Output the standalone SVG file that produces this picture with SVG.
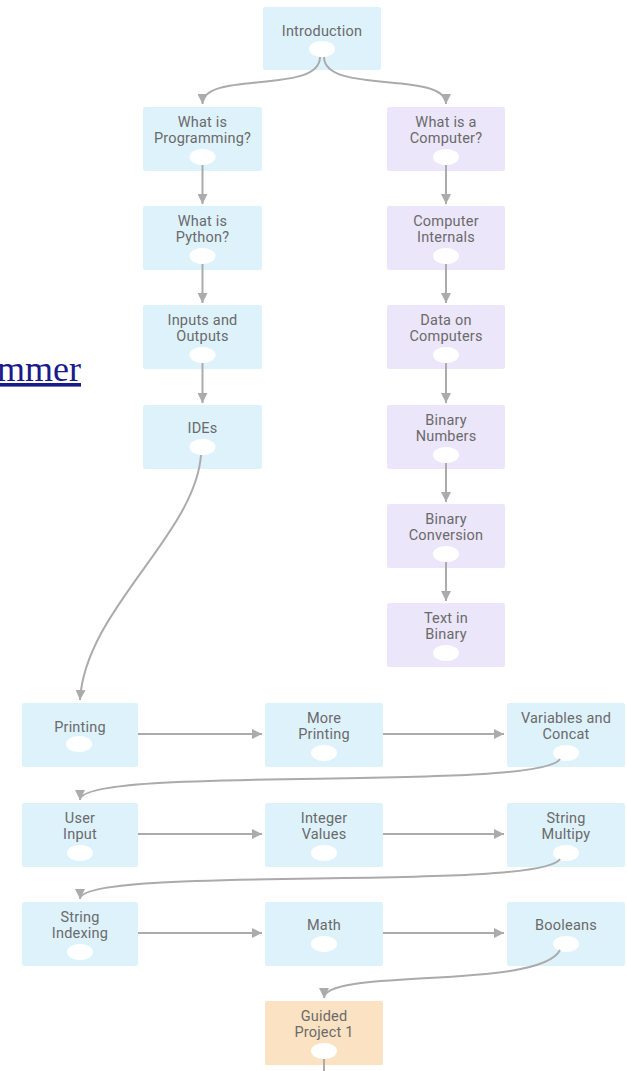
<svg xmlns="http://www.w3.org/2000/svg" width="627" height="1071" viewBox="0 0 627 1071">
<style>
.b{fill:#def2fc}
.p{fill:#ece6fb}
.o{fill:#fbe2c2}
.t{font-family:Roboto,"Liberation Sans",sans-serif;font-size:14.5px;letter-spacing:0.2px;fill:#6a6a6a;text-anchor:middle}
.c{fill:#fff}
.e{fill:none;stroke:#ababab;stroke-width:2;marker-end:url(#a)}
.n{fill:none;stroke:#ababab;stroke-width:2}
</style>
<defs>
<marker id="a" markerUnits="userSpaceOnUse" markerWidth="12" markerHeight="10" refX="10" refY="5" orient="auto" viewBox="0 0 12 10">
<path d="M0,0 L10,5 L0,10 z" fill="#ababab"/>
</marker>
</defs>
<rect width="627" height="1071" fill="#fff"/>
<text x="-3" y="381" font-family="'Liberation Serif',serif" font-size="36" fill="#1a1a8a" text-decoration="underline">mmer</text>

<g id="n-intro"><rect class="b" x="263" y="7" width="118" height="63" rx="2"/><text class="t" x="322" y="36">Introduction</text><ellipse class="c" cx="322" cy="49" rx="13" ry="8"/></g>

<g id="n-prog"><rect class="b" x="143" y="107" width="119" height="64" rx="2"/><text class="t" x="202.5" y="127">What is</text><text class="t" x="202.5" y="143">Programming?</text><ellipse class="c" cx="202.5" cy="157" rx="13" ry="8"/></g>
<g id="n-python"><rect class="b" x="143" y="206" width="119" height="64" rx="2"/><text class="t" x="202.5" y="226">What is</text><text class="t" x="202.5" y="242">Python?</text><ellipse class="c" cx="202.5" cy="256" rx="13" ry="8"/></g>
<g id="n-io"><rect class="b" x="143" y="305" width="119" height="64" rx="2"/><text class="t" x="202.5" y="325">Inputs and</text><text class="t" x="202.5" y="341">Outputs</text><ellipse class="c" cx="202.5" cy="355" rx="13" ry="8"/></g>
<g id="n-ides"><rect class="b" x="143" y="405" width="119" height="64" rx="2"/><text class="t" x="202.5" y="433">IDEs</text><ellipse class="c" cx="202.5" cy="447" rx="13" ry="8"/></g>

<g id="n-comp"><rect class="p" x="387" y="107" width="118" height="64" rx="2"/><text class="t" x="446" y="127">What is a</text><text class="t" x="446" y="143">Computer?</text><ellipse class="c" cx="446" cy="157" rx="13" ry="8"/></g>
<g id="n-internals"><rect class="p" x="387" y="206" width="118" height="64" rx="2"/><text class="t" x="446" y="226">Computer</text><text class="t" x="446" y="242">Internals</text><ellipse class="c" cx="446" cy="256" rx="13" ry="8"/></g>
<g id="n-data"><rect class="p" x="387" y="305" width="118" height="64" rx="2"/><text class="t" x="446" y="325">Data on</text><text class="t" x="446" y="341">Computers</text><ellipse class="c" cx="446" cy="355" rx="13" ry="8"/></g>
<g id="n-binnum"><rect class="p" x="387" y="405" width="118" height="64" rx="2"/><text class="t" x="446" y="425">Binary</text><text class="t" x="446" y="441">Numbers</text><ellipse class="c" cx="446" cy="455" rx="13" ry="8"/></g>
<g id="n-binconv"><rect class="p" x="387" y="504" width="118" height="64" rx="2"/><text class="t" x="446" y="524">Binary</text><text class="t" x="446" y="540">Conversion</text><ellipse class="c" cx="446" cy="554" rx="13" ry="8"/></g>
<g id="n-textbin"><rect class="p" x="387" y="603" width="118" height="64" rx="2"/><text class="t" x="446" y="623">Text in</text><text class="t" x="446" y="639">Binary</text><ellipse class="c" cx="446" cy="653" rx="13" ry="8"/></g>

<g id="n-printing"><rect class="b" x="22" y="703" width="116" height="64" rx="2"/><text class="t" x="80" y="732">Printing</text><ellipse class="c" cx="79" cy="744" rx="13" ry="8"/></g>
<g id="n-moreprinting"><rect class="b" x="265" y="703" width="118" height="64" rx="2"/><text class="t" x="324" y="723">More</text><text class="t" x="324" y="739">Printing</text><ellipse class="c" cx="324" cy="753" rx="13" ry="8"/></g>
<g id="n-vars"><rect class="b" x="507" y="703" width="118" height="64" rx="2"/><text class="t" x="566" y="723">Variables and</text><text class="t" x="566" y="739">Concat</text><ellipse class="c" cx="566" cy="753" rx="13" ry="8"/></g>

<g id="n-userinput"><rect class="b" x="22" y="803" width="116" height="64" rx="2"/><text class="t" x="80" y="823">User</text><text class="t" x="80" y="839">Input</text><ellipse class="c" cx="80" cy="853" rx="13" ry="8"/></g>
<g id="n-integer"><rect class="b" x="265" y="803" width="118" height="64" rx="2"/><text class="t" x="324" y="823">Integer</text><text class="t" x="324" y="839">Values</text><ellipse class="c" cx="324" cy="853" rx="13" ry="8"/></g>
<g id="n-strmul"><rect class="b" x="507" y="803" width="118" height="64" rx="2"/><text class="t" x="566" y="823">String</text><text class="t" x="566" y="839">Multipy</text><ellipse class="c" cx="566" cy="853" rx="13" ry="8"/></g>

<g id="n-stridx"><rect class="b" x="22" y="902" width="116" height="64" rx="2"/><text class="t" x="80" y="922">String</text><text class="t" x="80" y="938">Indexing</text><ellipse class="c" cx="80" cy="952" rx="13" ry="8"/></g>
<g id="n-math"><rect class="b" x="265" y="902" width="118" height="64" rx="2"/><text class="t" x="324" y="930">Math</text><ellipse class="c" cx="324" cy="944" rx="13" ry="8"/></g>
<g id="n-bool"><rect class="b" x="507" y="902" width="118" height="64" rx="2"/><text class="t" x="566" y="930">Booleans</text><ellipse class="c" cx="566" cy="944" rx="13" ry="8"/></g>

<g id="n-guided"><rect class="o" x="265" y="1001" width="118" height="64" rx="2"/><text class="t" x="324" y="1021">Guided</text><text class="t" x="324" y="1037">Project 1</text><ellipse class="c" cx="324" cy="1051" rx="13" ry="8"/></g>

<g id="connectors">
<path class="e" d="M320,57 C320,95 202.5,70 202.5,104"/>
<path class="e" d="M324,57 C324,95 446,70 446,104"/>
<path class="e" d="M202.5,165 L202.5,204"/>
<path class="e" d="M202.5,264 L202.5,303"/>
<path class="e" d="M202.5,363 L202.5,403"/>
<path class="e" d="M446,165 L446,204"/>
<path class="e" d="M446,264 L446,303"/>
<path class="e" d="M446,363 L446,403"/>
<path class="e" d="M446,463 L446,502"/>
<path class="e" d="M446,562 L446,601"/>
<path class="e" d="M201,455 C195,535 85,610 80,700"/>
<path class="e" d="M138,734 L262,734"/>
<path class="e" d="M383,734 L504,734"/>
<path class="e" d="M560,759 C540,792 80,765 80,800"/>
<path class="e" d="M138,834 L262,834"/>
<path class="e" d="M383,834 L504,834"/>
<path class="e" d="M560,859 C540,892 80,865 80,899"/>
<path class="e" d="M138,933 L262,933"/>
<path class="e" d="M383,933 L504,933"/>
<path class="e" d="M560,950 C540,990 324,968 324,998"/>
<path class="n" d="M324,1059 L324,1071"/>
</g>
</svg>
